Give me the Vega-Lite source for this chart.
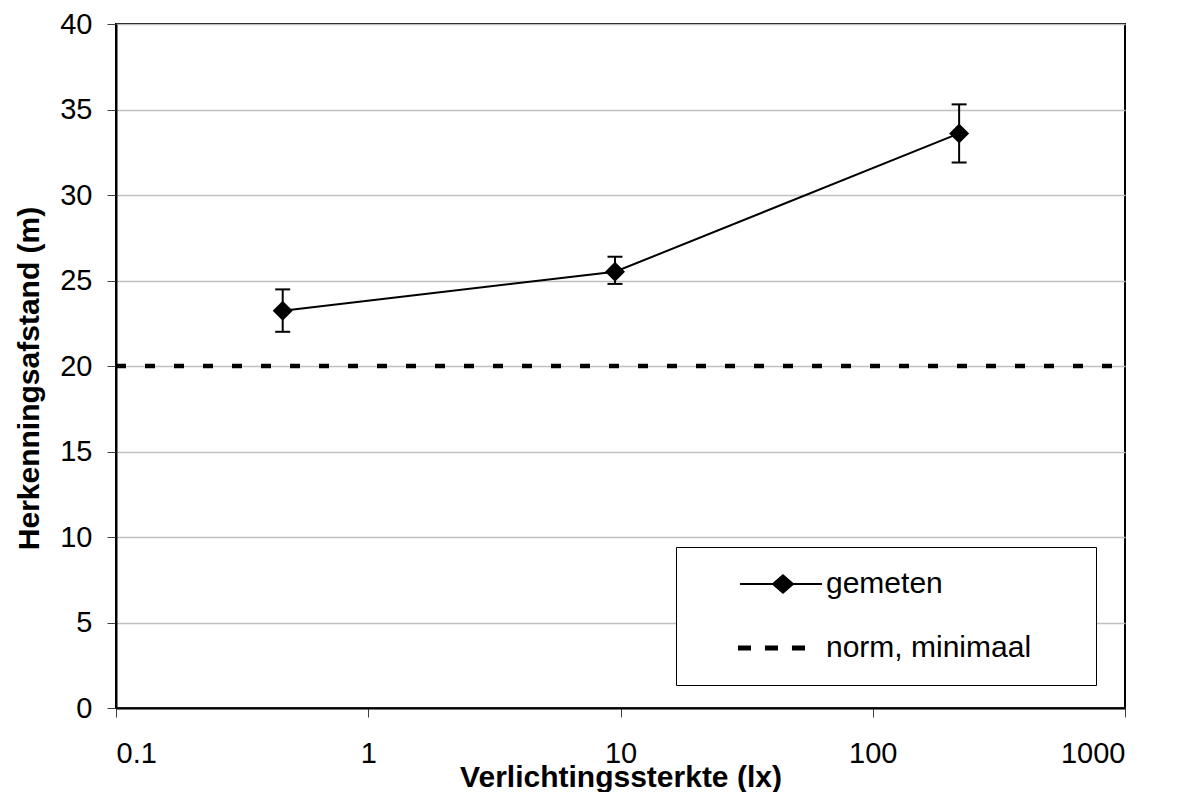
{
  "$schema": "https://vega.github.io/schema/vega-lite/v6.json",
  "autosize": {"type": "none"},
  "padding": {"left": 116, "top": 24, "right": 53, "bottom": 84},
  "width": 1009,
  "height": 684,
  "background": "white",
  "datasets": {
    "pts": [
      {"series": "gemeten", "lx": 0.458, "afstand": 23.23, "lo": 22.0, "hi": 24.48},
      {"series": "gemeten", "lx": 9.51, "afstand": 25.51, "lo": 24.8, "hi": 26.39},
      {"series": "gemeten", "lx": 220, "afstand": 33.6, "lo": 31.9, "hi": 35.3}
    ],
    "norm": [
      {"series": "norm, minimaal", "lx": 0.1, "afstand": 20},
      {"series": "norm, minimaal", "lx": 1000, "afstand": 20}
    ]
  },
  "encoding": {
    "x": {
      "field": "lx", "type": "quantitative",
      "scale": {"type": "log", "domain": [0.1, 1000], "nice": false},
      "axis": {
        "title": "Verlichtingssterkte (lx)",
        "values": [0.1, 1, 10, 100, 1000],
        "labelExpr": "'' + datum.value",
        "grid": false,
        "labelPadding": 22,
        "titleY": 54,
        "titleBaseline": "top"
      }
    },
    "y": {
      "field": "afstand", "type": "quantitative",
      "scale": {"domain": [0, 40], "nice": false, "zero": false},
      "axis": {
        "title": "Herkenningsafstand (m)",
        "values": [0, 5, 10, 15, 20, 25, 30, 35, 40],
        "grid": true,
        "gridColor": "#c0c0c0",
        "gridWidth": 1.5,
        "labelPadding": 15,
        "titleX": -78,
        "titleY": 354,
        "titleAngle": -90,
        "titleAlign": "center",
        "titleBaseline": "alphabetic"
      }
    }
  },
  "layer": [
    {
      "data": {"name": "norm"},
      "mark": {"type": "line", "color": "black", "strokeWidth": 4.5, "strokeCap": "butt", "strokeDash": [10, 19]},
      "encoding": {}
    },
    {
      "data": {"name": "pts"},
      "mark": {"type": "line", "color": "black", "strokeWidth": 2},
      "encoding": {}
    },
    {
      "data": {"name": "pts"},
      "mark": {
        "type": "errorbar",
        "color": "black",
        "opacity": 1,
        "ticks": {"size": 15, "thickness": 2, "color": "black", "opacity": 1},
        "rule": {"strokeWidth": 2, "color": "black", "opacity": 1}
      },
      "encoding": {
        "y": {"field": "lo", "type": "quantitative"},
        "y2": {"field": "hi"}
      }
    },
    {
      "data": {"name": "pts"},
      "mark": {"type": "point", "shape": "diamond", "filled": true, "color": "black", "opacity": 1, "size": 400}
    },
    {
      "data": {"name": "pts"},
      "mark": {"type": "point", "filled": true, "color": "black", "opacity": 0, "size": 900},
      "encoding": {
        "shape": {
          "field": "series", "type": "nominal",
          "scale": {
            "domain": ["gemeten", "norm, minimaal"],
            "range": [
              "M-5.53,0 M-2.73,-0.07H2.73V0.07H-2.73Z M-0.64,0L0.13,-0.67L0.9,0L0.13,0.67Z M19.53,0",
              "M-5.53,0 M-2.87,-0.17H-2.0V0.17H-2.87Z M-1.07,-0.17H-0.2V0.17H-1.07Z M0.73,-0.17H1.6V0.17H0.73Z M19.53,0"
            ]
          },
          "legend": {
            "title": null,
            "orient": "none",
            "legendX": 560,
            "legendY": 523,
            "direction": "vertical",
            "padding": 22,
            "rowPadding": 34,
            "strokeColor": "black",
            "fillColor": "white",
            "labelFont": "Liberation Sans",
            "labelFontSize": 30,
            "labelColor": "black",
            "labelLimit": 0,
            "symbolSize": 900,
            "symbolOpacity": 1,
            "symbolFillColor": "black",
            "symbolStrokeWidth": 0,
            "symbolOffset": 68,
            "labelOffset": 30,
            "encode": {
              "symbols": {
                "update": {
                  "opacity": {"value": 1},
                  "fill": {"value": "black"},
                  "fillOpacity": {"value": 1}
                }
              },
              "legend": {
                "update": {"strokeWidth": {"value": 1.5}}
              }
            }
          }
        }
      }
    }
  ],
  "config": {
    "view": {"stroke": "black", "strokeWidth": 2},
    "axis": {
      "labelFont": "Liberation Sans",
      "labelFontSize": 29,
      "labelColor": "black",
      "titleFont": "Liberation Sans",
      "titleFontSize": 30,
      "titleFontWeight": "bold",
      "titleColor": "black",
      "domainColor": "black",
      "domainWidth": 2,
      "tickColor": "#404040",
      "tickWidth": 1,
      "tickSize": 9
    }
  }
}
